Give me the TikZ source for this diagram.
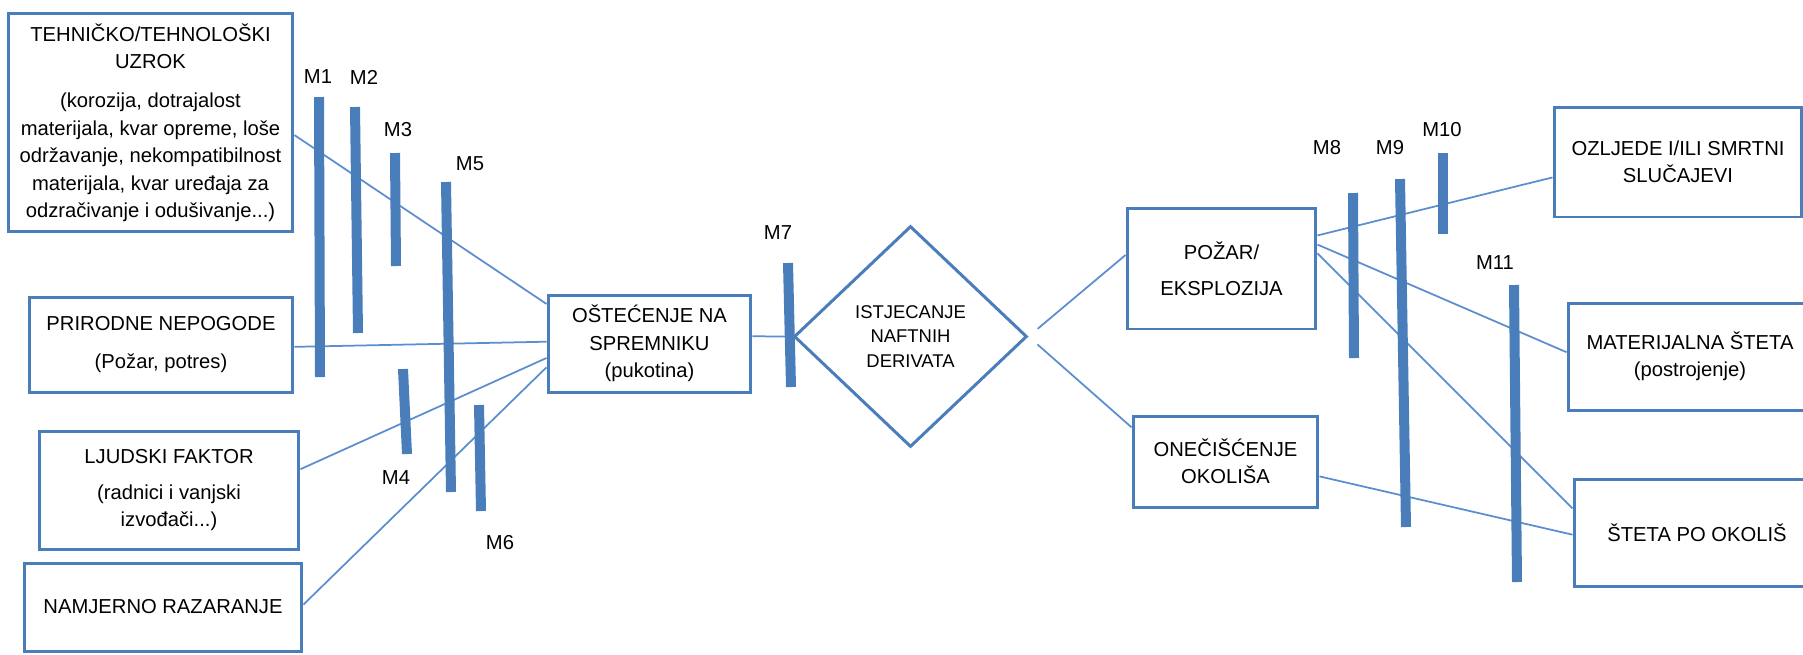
\documentclass[tikz,border=0pt]{standalone}
\usepackage{fontspec}
\setmainfont{Liberation Sans}
\usetikzlibrary{shapes.geometric}

\definecolor{boxblue}{RGB}{74,126,187}
\definecolor{linkblue}{RGB}{91,141,207}

\begin{document}
\begin{tikzpicture}[x=0.02cm,y=-0.02cm,
  box/.style={draw=boxblue,line width=0.06cm,align=center,inner sep=0pt,
    font=\fontsize{11.5}{15.6}\selectfont},
  link/.style={draw=linkblue,line width=0.035cm},
  barrier/.style={draw=boxblue,line width=0.2cm},
  mlabel/.style={inner sep=0pt,font=\fontsize{11.5}{14}\selectfont}]

\useasboundingbox (0,0) rectangle (1803,654);

% Causes (left)
\node[box,minimum width=5.70cm,minimum height=4.38cm] (tech) at (150.5,122.5)
  {TEHNIČKO/TEHNOLOŠKI\\UZROK\\[0.24cm](korozija, dotrajalost\\materijala, kvar opreme, loše\\održavanje, nekompatibilnost\\materijala, kvar uređaja za\\odzračivanje i odušivanje...)};
\node[box,minimum width=5.28cm,minimum height=1.90cm] (prir) at (161,344.5)
  {PRIRODNE NEPOGODE\\[0.22cm](Požar, potres)};
\node[box,minimum width=5.20cm,minimum height=2.36cm] (ljud) at (169,490)
  {LJUDSKI FAKTOR\\[0.18cm](radnici i vanjski\\izvođači...)};
\node[box,minimum width=5.56cm,minimum height=1.76cm] (namj) at (163,607)
  {NAMJERNO RAZARANJE};

% Top event
\node[box,minimum width=4.06cm,minimum height=1.94cm] (ostec) at (649.5,343.5)
  {OŠTEĆENJE NA\\SPREMNIKU\\(pukotina)};
\node[box,diamond,minimum width=4.66cm,minimum height=4.42cm,
  font=\fontsize{10.5}{14.2}\selectfont] (istj) at (910.5,336.5)
  {ISTJECANJE\\NAFTNIH\\DERIVATA};

% Consequences (right)
\node[box,minimum width=3.78cm,minimum height=2.42cm] (pozar) at (1221.5,268.5)
  {POŽAR/\\[0.18cm]EKSPLOZIJA};
\node[box,minimum width=3.70cm,minimum height=1.82cm] (oneci) at (1225.5,461.5)
  {ONEČIŠĆENJE\\OKOLIŠA};
\node[box,minimum width=4.96cm,minimum height=2.20cm] (ozlj) at (1678,162)
  {OZLJEDE I/ILI SMRTNI\\SLUČAJEVI};
\node[box,minimum width=4.88cm,minimum height=2.14cm] (mater) at (1690,356.5)
  {MATERIJALNA ŠTETA\\(postrojenje)};
\node[box,minimum width=4.92cm,minimum height=2.14cm] (steta) at (1697,532.5)
  {ŠTETA PO OKOLIŠ};

% Links
\draw[link] (tech.-5) -- (ostec.159);
\draw[link] (prir.-1.5) -- (ostec.179);
\draw[link] (ljud.9) -- (ostec.188);
\draw[link] (namj.1) -- (ostec.193);
\draw[link] (ostec.4) -- (istj.west);
\draw[link,shorten <=0.24cm] (istj.east) -- (pozar.172);
\draw[link,shorten <=0.24cm] (istj.east) -- (oneci.160);
\draw[link] (pozar.19.5) -- (ozlj.187);
\draw[link] (pozar.14) -- (mater.178);
\draw[link] (pozar.9) -- (steta.169);
\draw[link] (oneci.-9.5) -- (steta.181);

% Barriers M1 - M7
\draw[barrier] (319,97) -- (320,377);
\node[mlabel] (m1) at (318,77) {M1};
\draw[barrier] (355,107) -- (358,333);
\node[mlabel] (m2) at (364,77) {M2};
\draw[barrier] (395,153) -- (396,266);
\node[mlabel] (m3) at (398,130) {M3};
\draw[barrier] (403,369) -- (407,454);
\node[mlabel] (m4) at (396,478) {M4};
\draw[barrier] (446,182) -- (451,492);
\node[mlabel] (m5) at (470,164) {M5};
\draw[barrier] (479,405) -- (481,511);
\node[mlabel] (m6) at (500,543) {M6};
\draw[barrier] (788,263) -- (791,387);
\node[mlabel] (m7) at (778,233) {M7};

% Barriers M8 - M11
\draw[barrier] (1353,193) -- (1354,358);
\node[mlabel] (m8) at (1327,148) {M8};
\draw[barrier] (1400,179) -- (1406,527);
\node[mlabel] (m9) at (1390,148) {M9};
\draw[barrier] (1443,153) -- (1443,234);
\node[mlabel] (m10) at (1442,130) {M10};
\draw[barrier] (1514,285) -- (1517,582);
\node[mlabel] (m11) at (1495,263) {M11};

\end{tikzpicture}
\end{document}
